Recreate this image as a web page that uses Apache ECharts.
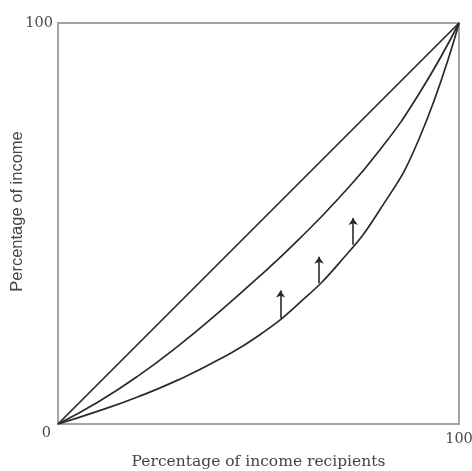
<!DOCTYPE html>
<html>
<head>
<meta charset="utf-8">
<script src="https://cdn.jsdelivr.net/npm/echarts@6/dist/echarts.min.js"></script>
<style>html,body{margin:0;padding:0;background:#fff;}#c{width:472px;height:471px;}</style>
</head>
<body>
<div id="c"></div>
<script>
const xTicks = [0, 100];
const yTicks = [0, 100];
const equality = [[0, 0], [100, 100]];
const curveA = [[0,0],[10,5.5],[20,12],[30,19.5],[40,27.8],[50,36.6],[60,46],[70,56.3],[80,68],[90,82.3],[100,100]];
const curveB = [[0,0],[10,3.2],[20,6.8],[30,11],[40,16],[50,22],[60,30],[70,40],[80,53],[90,71],[100,100]];
const arrowX = [55.5, 65.1, 73.6];
const arrowBase = [26.4, 35.1, 44.7];
const arrowTip = [33.3, 41.7, 51.4];

const serif = 'DejaVu Serif';
const chart = echarts.init(document.getElementById('c'));
const lineStyle = {color: '#2a2a2a', width: 1.7};
chart.setOption({
  animation: false,
  grid: {left: 58, top: 23, right: 13, bottom: 47, show: true, borderColor: '#a3a3a3', borderWidth: 2,
    containLabel: false, outerBoundsMode: 'none'},
  xAxis: {
    type: 'value', min: 0, max: 100, interval: 100,
    axisLine: {show: false}, axisTick: {show: false}, splitLine: {show: false},
    axisLabel: {fontFamily: serif, fontSize: 14.5, color: '#4a4a4a', margin: 8,
      formatter: v => (v === xTicks[1] ? String(v) : '')},
    name: 'Percentage of income recipients', nameLocation: 'middle', nameGap: 30, nameMoveOverlap: false,
    nameTextStyle: {fontFamily: serif, fontSize: 15.5, color: '#444'}
  },
  yAxis: {
    type: 'value', min: 0, max: 100, interval: 100,
    axisLine: {show: false}, axisTick: {show: false}, splitLine: {show: false},
    axisLabel: {fontFamily: serif, fontSize: 14.5, color: '#4a4a4a', margin: 5,
      formatter: v => (yTicks.includes(v) ? (v === 0 ? '{z|' + v + '}' : String(v)) : ''),
      rich: {z: {fontFamily: serif, fontSize: 14.5, color: '#4a4a4a', padding: [18, 2, 0, 0]}}},
    name: 'Percentage of income', nameLocation: 'middle', nameGap: 32, nameMoveOverlap: false,
    nameTextStyle: {fontFamily: 'Liberation Sans', fontSize: 16.5, color: '#444', padding: [0, 0, 0, 24]}
  },
  series: [
    {type: 'line', data: equality, symbol: 'none', lineStyle: lineStyle},
    {type: 'line', data: curveA, symbol: 'none', smooth: true, lineStyle: lineStyle},
    {type: 'line', data: curveB, symbol: 'none', smooth: true, lineStyle: lineStyle},
    {type: 'lines', coordinateSystem: 'cartesian2d', symbol: ['none', 'arrow'], symbolSize: 7,
      lineStyle: {color: '#2a2a2a', width: 1.6, opacity: 1},
      data: arrowX.map((x, i) => ({coords: [[x, arrowBase[i]], [x, arrowTip[i]]]}))}
  ]
});
</script>
</body>
</html>
